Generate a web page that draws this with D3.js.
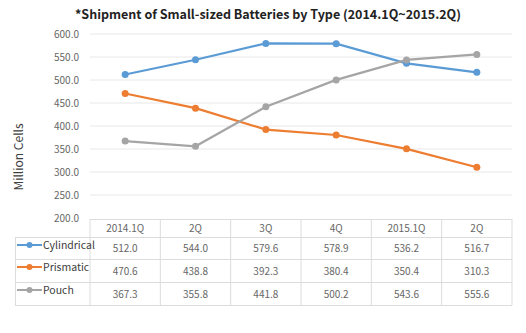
<!DOCTYPE html>
<html>
<head>
<meta charset="utf-8">
<script src="https://cdn.jsdelivr.net/npm/d3@7/dist/d3.min.js"></script>
<style>
  body { margin: 0; background: #fff; }
  svg { font-family: "Noto Sans CJK KR", "Noto Sans", sans-serif; }
</style>
</head>
<body>
<svg id="chart" width="526" height="333"></svg>
<script>
const quarters = ["2014.1Q", "2Q", "3Q", "4Q", "2015.1Q", "2Q"];
const seriesNames = ["Cylindrical", "Prismatic", "Pouch"];
const cylindrical = [512.0, 544.0, 579.6, 578.9, 536.2, 516.7];
const prismatic = [470.6, 438.8, 392.3, 380.4, 350.4, 310.3];
const pouch = [367.3, 355.8, 441.8, 500.2, 543.6, 555.6];
const yTicks = [200, 250, 300, 350, 400, 450, 500, 550, 600];
const colors = ["#5b9bd5", "#ed7d31", "#a5a5a5"];

const series = [cylindrical, prismatic, pouch].map((v, i) => ({ name: seriesNames[i], values: v, color: colors[i] }));

const svg = d3.select("#chart");
const plotLeft = 90, plotRight = 512, plotTop = 34, plotBottom = 218;

const x = d3.scaleBand().domain(d3.range(quarters.length)).range([plotLeft, plotRight]);
const y = d3.scaleLinear().domain([200, 600]).range([plotBottom, plotTop]);

// title
svg.append("text")
  .attr("x", 268).attr("y", 19)
  .attr("text-anchor", "middle")
  .style("font-size", "12.5px").style("font-weight", "bold").style("fill", "#222")
  .text("*Shipment of Small-sized Batteries by Type (2014.1Q~2015.2Q)");

// gridlines
svg.append("g").selectAll("line")
  .data(yTicks.filter(d => d > 200))
  .join("line")
  .attr("x1", plotLeft).attr("x2", plotRight)
  .attr("y1", d => y(d)).attr("y2", d => y(d))
  .attr("stroke", "#e8e8e8").attr("stroke-width", 1);

// y axis labels
svg.append("g").selectAll("text")
  .data(yTicks)
  .join("text")
  .attr("x", 79).attr("y", d => y(d) + 3.5)
  .attr("text-anchor", "end")
  .style("font-size", "10px").style("fill", "#666")
  .text(d => d3.format(".1f")(d));

// y axis title
svg.append("text")
  .attr("transform", "translate(23,157) rotate(-90)")
  .attr("text-anchor", "middle")
  .style("font-size", "12px").style("fill", "#404040")
  .text("Million Cells");

// lines
const line = d3.line().x((d, i) => x(i) + x.bandwidth() / 2).y(d => y(d));
const sg = svg.append("g").selectAll("g").data(series).join("g");
sg.append("path")
  .attr("d", d => line(d.values))
  .attr("fill", "none")
  .attr("stroke", d => d.color)
  .attr("stroke-width", 2.2);
sg.selectAll("circle")
  .data(d => d.values.map(v => ({ v, color: d.color })))
  .join("circle")
  .attr("cx", (d, i) => x(i) + x.bandwidth() / 2)
  .attr("cy", d => y(d.v))
  .attr("r", 3.5)
  .attr("fill", d => d.color);

// data table
const rowY = [219, 237, 259, 282, 305];
const tbl = svg.append("g").attr("stroke", "#dcdcdc").attr("stroke-width", 1);
tbl.selectAll("line.h")
  .data(rowY)
  .join("line")
  .attr("class", "h")
  .attr("x1", (d, i) => i === 0 ? plotLeft : 15)
  .attr("x2", plotRight)
  .attr("y1", d => d + 0.5).attr("y2", d => d + 0.5);
tbl.selectAll("line.v")
  .data(d3.range(quarters.length + 1))
  .join("line")
  .attr("class", "v")
  .attr("x1", i => i === quarters.length ? plotRight : x(i))
  .attr("x2", i => i === quarters.length ? plotRight : x(i))
  .attr("y1", rowY[0]).attr("y2", rowY[4]);
tbl.append("line")
  .attr("x1", 15.5).attr("x2", 15.5)
  .attr("y1", rowY[1]).attr("y2", rowY[4]);

// header
svg.append("g").selectAll("text")
  .data(quarters)
  .join("text")
  .attr("x", (d, i) => x(i) + x.bandwidth() / 2)
  .attr("y", (rowY[0] + rowY[1]) / 2 + 4)
  .attr("text-anchor", "middle")
  .style("font-size", "10px").style("fill", "#666")
  .text(d => d);

// value cells + legend keys
series.forEach((s, r) => {
  const cy = (rowY[r + 1] + rowY[r + 2]) / 2 + 4;
  svg.append("g").selectAll("text")
    .data(s.values)
    .join("text")
    .attr("x", (d, i) => x(i) + x.bandwidth() / 2)
    .attr("y", cy)
    .attr("text-anchor", "middle")
    .style("font-size", "10px").style("fill", "#666")
    .text(d => d3.format(".1f")(d));

  const ly = rowY[r + 1] + 8;
  svg.append("line")
    .attr("x1", 17).attr("x2", 42)
    .attr("y1", ly).attr("y2", ly)
    .attr("stroke", s.color).attr("stroke-width", 2);
  svg.append("circle")
    .attr("cx", 29.5).attr("cy", ly).attr("r", 3)
    .attr("fill", s.color);
  svg.append("text")
    .attr("x", 43).attr("y", ly + 4)
    .style("font-size", "10.5px").style("fill", "#404040")
    .text(s.name);
});
</script>
</body>
</html>
